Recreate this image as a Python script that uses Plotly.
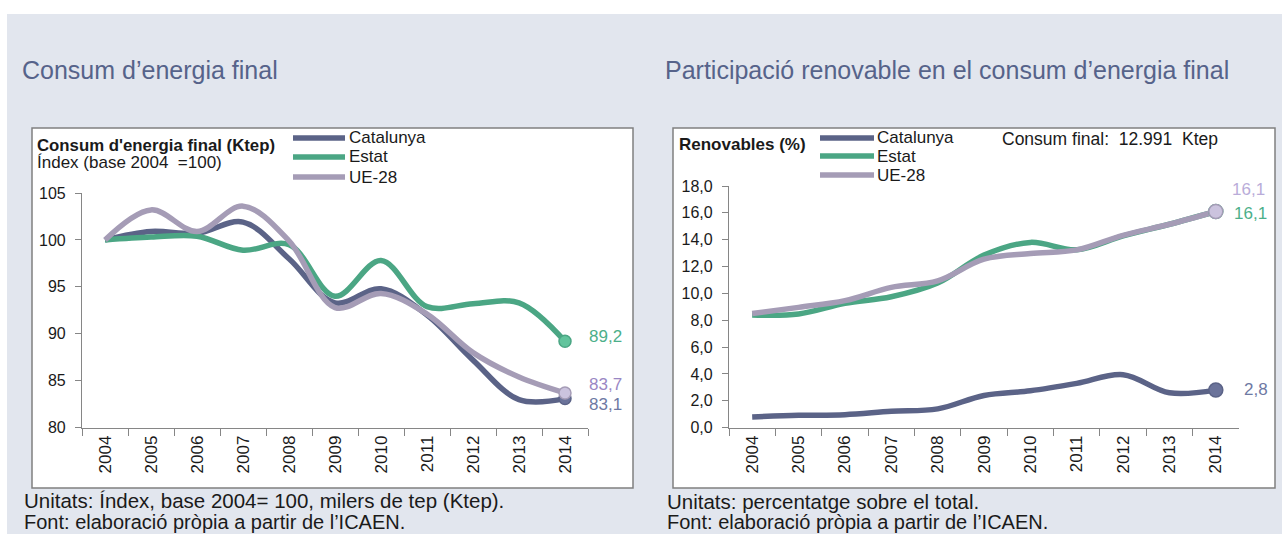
import plotly.graph_objects as go

W, H = 1282, 534

years = ["2004", "2005", "2006", "2007", "2008", "2009", "2010", "2011", "2012", "2013", "2014"]

# Consum d'energia final (index base 2004 = 100)
idx_catalunya = [100.0, 100.9, 100.7, 101.9, 98.0, 93.3, 94.8, 92.0, 87.2, 83.0, 83.1]
idx_estat = [100.0, 100.3, 100.4, 98.9, 99.5, 94.0, 97.8, 92.9, 93.2, 93.3, 89.2]
idx_ue28 = [100.0, 103.2, 100.9, 103.6, 99.9, 92.8, 94.3, 92.1, 88.0, 85.4, 83.7]

# Renovables (%)
ren_catalunya = [0.8, 0.92, 0.97, 1.22, 1.4, 2.4, 2.75, 3.3, 3.95, 2.6, 2.8]
ren_estat = [8.4, 8.47, 9.26, 9.75, 10.77, 12.85, 13.8, 13.25, 14.28, 15.15, 16.1]
ren_ue28 = [8.5, 8.96, 9.46, 10.45, 10.94, 12.55, 12.97, 13.24, 14.33, 15.15, 16.1]

series_names = ["Catalunya", "Estat", "UE-28"]
line_colors = ["#5b6387", "#4ba684", "#a59cb6"]
marker_fill = ["#6b739a", "#62c49d", "#cbc3de"]
label_colors = ["#6e79a3", "#4caf8a", "#9a87c4"]
label_colors_r = ["#6e79a3", "#4caf8a", "#b9acd9"]

FONT = "Liberation Sans, Arial, sans-serif"
TITLE_COLOR = "#56638a"


def px(x):
    return x / W


def py(y):
    return 1 - y / H


fig = go.Figure()

left = [idx_catalunya, idx_estat, idx_ue28]
right = [ren_catalunya, ren_estat, ren_ue28]
last = len(years) - 1

for i, (name, vals) in enumerate(zip(series_names, left)):
    fig.add_trace(go.Scatter(x=years, y=vals, mode="lines", name=name,
                             line=dict(color=line_colors[i], width=5.5, shape="spline", smoothing=1.0),
                             xaxis="x", yaxis="y", showlegend=False, hoverinfo="skip"))
for i, (name, vals) in enumerate(zip(series_names, left)):
    fig.add_trace(go.Scatter(x=[years[-1]], y=[vals[-1]], mode="markers",
                             marker=dict(size=12, color=marker_fill[i], line=dict(color=line_colors[i], width=1.5)),
                             xaxis="x", yaxis="y", showlegend=False, hoverinfo="skip"))

for i, (name, vals) in enumerate(zip(series_names, right)):
    fig.add_trace(go.Scatter(x=years, y=vals, mode="lines", name=name,
                             line=dict(color=line_colors[i], width=5.5, shape="spline", smoothing=1.0),
                             xaxis="x2", yaxis="y2", showlegend=False, hoverinfo="skip"))
for i, (name, vals) in enumerate(zip(series_names, right)):
    fig.add_trace(go.Scatter(x=[years[-1]], y=[vals[-1]], mode="markers",
                             marker=dict(size=14, color=marker_fill[i], line=dict(color=line_colors[i], width=1.5)),
                             xaxis="x2", yaxis="y2", showlegend=False, hoverinfo="skip"))

axis_common = dict(showgrid=False, zeroline=False, showline=True, linecolor="#868686", linewidth=1.2,
                   ticks="outside", tickcolor="#868686", tickwidth=1.2, automargin=False)
xtick_font = dict(family=FONT, size=17, color="#1a1a1a")
ytick_font = dict(family=FONT, size=16, color="#1a1a1a")

fig.update_layout(
    width=W, height=H,
    margin=dict(l=0, r=0, t=0, b=0, pad=0, autoexpand=False),
    paper_bgcolor="white",
    plot_bgcolor="rgba(0,0,0,0)",
    separators=",.",
    xaxis=dict(domain=[px(82), px(588)], anchor="y", type="category", range=[-0.5, 10.5],
               tickson="boundaries", ticklen=7, tickangle=-90, tickfont=xtick_font, **axis_common),
    yaxis=dict(domain=[py(427.7), py(193)], anchor="x", range=[80, 105], dtick=5,
               ticklen=6, ticklabelstandoff=6, tickfont=ytick_font, **axis_common),
    xaxis2=dict(domain=[px(729), px(1239)], anchor="y2", type="category", range=[-0.5, 10.5],
                tickson="boundaries", ticklen=7, tickangle=-90, tickfont=xtick_font, **axis_common),
    yaxis2=dict(domain=[py(427.7), py(186)], anchor="x2", range=[0, 18], dtick=2, tickformat=".1f",
                ticklen=6, ticklabelstandoff=6, tickfont=ytick_font, **axis_common),
)

shapes = []
# page background
shapes.append(dict(type="rect", xref="paper", yref="paper", x0=px(7), x1=1, y0=0, y1=py(14),
                   fillcolor="#e2e6ee", line=dict(width=0), layer="below"))
# chart boxes
for x0, x1 in [(32, 633), (673, 1275)]:
    shapes.append(dict(type="rect", xref="paper", yref="paper", x0=px(x0), x1=px(x1), y0=py(488), y1=py(128),
                       fillcolor="white", line=dict(color="#808080", width=1.5), layer="below"))
# legend line samples
for (lx0, lx1, ys) in [(293, 345, [138, 157, 177]), (820, 874, [138, 156, 175])]:
    for i, yy in enumerate(ys):
        shapes.append(dict(type="line", xref="paper", yref="paper", x0=px(lx0), x1=px(lx1), y0=py(yy), y1=py(yy),
                           line=dict(color=line_colors[i], width=5.5), layer="above"))
fig.update_layout(shapes=shapes)

ann = []


def text(x, y, s, size=16, color="#1a1a1a", bold=False, xanchor="left", family=FONT):
    if bold:
        s = "<b>" + s + "</b>"
    ann.append(dict(xref="paper", yref="paper", x=px(x), y=py(y), text=s, showarrow=False,
                    xanchor=xanchor, yanchor="middle", xshift=-2, font=dict(family=family, size=size, color=color)))


text(22, 70, "Consum d’energia final", size=25, color=TITLE_COLOR)
text(665, 70, "Participació renovable en el consum d’energia final", size=25, color=TITLE_COLOR)

text(37, 145, "Consum d'energia final (Ktep)", size=16.8, bold=True)
text(37, 163, "Índex (base 2004  =100)", size=17)
text(679, 144, "Renovables (%)", size=17, bold=True)
text(1002, 139, "Consum final:  12.991  Ktep", size=17.5)

for i, nm in enumerate(series_names):
    text(349, [138, 157, 177][i], nm, size=17)
    text(877, [138, 156, 175][i], nm, size=17)

text(24, 500, "Unitats: Índex, base 2004= 100, milers de tep (Ktep).", size=20.5)
text(24, 522, "Font: elaboració pròpia a partir de l’ICAEN.", size=20)
text(667, 501, "Unitats: percentatge sobre el total.", size=20.5)
text(667, 522, "Font: elaboració pròpia a partir de l’ICAEN.", size=20)

fig.update_layout(annotations=ann)


def fmt(v):
    return f"{v:.1f}".replace(".", ",")


# end labels (data-anchored at the last category)
left_offsets = {"Catalunya": (22, -6), "Estat": (22, 5), "UE-28": (22, 8)}
for i, (nm, vals) in enumerate(zip(series_names, left)):
    dx, dy = left_offsets[nm]
    fig.add_annotation(x=last, y=vals[-1], xref="x", yref="y", text=fmt(vals[-1]), showarrow=False,
                       xanchor="left", yanchor="middle", xshift=dx, yshift=dy,
                       font=dict(family=FONT, size=17, color=label_colors[i]))

right_offsets = {"Catalunya": (26, 1), "Estat": (16, -2), "UE-28": (14, 22)}
for i, (nm, vals) in enumerate(zip(series_names, right)):
    dx, dy = right_offsets[nm]
    fig.add_annotation(x=last, y=vals[-1], xref="x2", yref="y2", text=fmt(vals[-1]), showarrow=False,
                       xanchor="left", yanchor="middle", xshift=dx, yshift=dy,
                       font=dict(family=FONT, size=17, color=label_colors_r[i]))

post = (
    "var gd=document.getElementById('{plot_id}');"
    "gd.style.position='fixed';gd.style.top='0px';gd.style.left='0px';"
    "document.body.style.margin='0';document.body.style.overflow='hidden';"
    "document.documentElement.style.overflow='hidden';"
)
fig.write_html("out.html", config={"displayModeBar": False}, post_script=post)
